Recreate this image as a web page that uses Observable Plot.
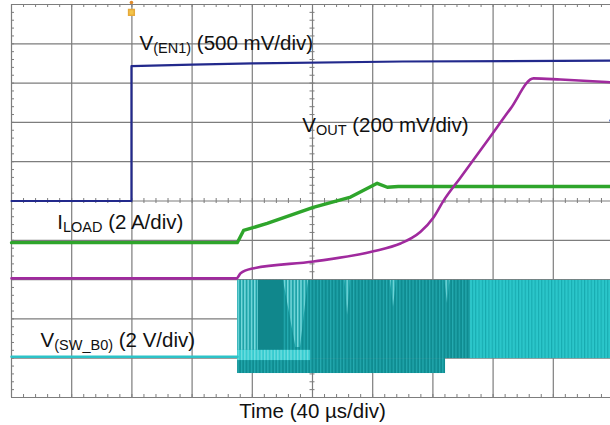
<!DOCTYPE html>
<html>
<head>
<meta charset="utf-8">
<script src="https://cdn.jsdelivr.net/npm/d3@7"></script>
<script src="https://cdn.jsdelivr.net/npm/@observablehq/plot@0.6"></script>
<style>
  html, body { margin: 0; padding: 0; background: #fff; overflow: hidden; }
  #chart svg { display: block; }
</style>
</head>
<body>
<div id="chart"></div>
<script>
// ---- Data (time in µs, amplitude in screen divisions) ----
const timeTicks = [0, 40, 80, 120, 160, 200, 240, 280, 320, 360, 400];
const divTicks = [0, 1, 2, 3, 4, 5, 6, 7, 8, 9, 10];
const xLabel = "Time (40 µs/div)";

// V(EN1)
const en1Time = [0, 79.7, 79.7, 120, 160, 260, 398];
const en1Div  = [5.0, 5.0, 8.43, 8.47, 8.5, 8.55, 8.57];

// VOUT
const voutTime = [0, 149.5, 152.2, 160.1, 200.7, 240.5, 258.5, 266, 271.8, 280.4, 287.1, 298.4, 316.3, 331.6, 346.9, 364.8, 398];
const voutDiv  = [3.03, 3.03, 3.16, 3.28, 3.46, 3.72, 3.92, 4.06, 4.22, 4.58, 5.01, 5.6, 6.54, 7.35, 8.12, 8.09, 8.02];

// ILOAD
const iloadTime = [0, 150, 154.2, 169.9, 200.5, 225.3, 243, 249.7, 257, 398];
const iloadDiv  = [3.94, 3.94, 4.25, 4.43, 4.84, 5.1, 5.45, 5.35, 5.37, 5.37];

// V(SW_B0): idle level before switching
const swIdleTime = [0, 150.2];
const swIdleDiv  = [1.04, 1.04];

// V(SW_B0): switching envelope regions
const swRegions = [
  {kind: "dark",  t1: 150.2, t2: 305.0, lo: 0.99, hi: 2.98},
  {kind: "dark",  t1: 150.2, t2: 288.4, lo: 0.61, hi: 0.99},
  {kind: "light", t1: 305.0, t2: 400,   lo: 0.99, hi: 2.98},
  {kind: "solid", t1: 164.1, t2: 180.7, lo: 1.2,  hi: 2.98},
  {kind: "notch", t1: 150.2, t2: 164.1, lo: 1.2,  hi: 2.98},
  {kind: "flat",  t1: 150.2, t2: 198.7, lo: 0.94, hi: 1.2}
];
// light notches dipping from the top of the envelope
const notchId     = ["a", "a", "a", "a", "b", "b", "b", "c", "c", "c", "d", "d", "d"];
const notchTime   = [180.7, 189.0, 192.0, 197.3, 221.6, 223.3, 225.3, 251.8, 253.8, 255.8, 288.0, 289.7, 291.4];
const notchBottom = [2.98, 1.27, 1.27, 2.98, 2.98, 2.09, 2.98, 2.98, 2.29, 2.98, 2.98, 2.39, 2.98];

// trace labels
const labelTime = [85.1, 193.2, 30.4, 19.3];
const labelDiv  = [8.83, 6.75, 4.30, 1.28];
const labelMain = ["V", "V", "I", "V"];
const labelSub  = ["(EN1)", "OUT", "LOAD", "(SW_B0)"];
const labelRest = [" (500 mV/div)", " (200 mV/div)", " (2 A/div)", " (2 V/div)"];

// ---- Build tables ----
const zip = (t, v) => t.map((x, i) => ({t: x, v: v[i]}));
const en1 = zip(en1Time, en1Div);
const vout = zip(voutTime, voutDiv);
const iload = zip(iloadTime, iloadDiv);
const swIdle = zip(swIdleTime, swIdleDiv);
const notches = notchTime.map((t, i) => ({id: notchId[i], t, lo: notchBottom[i], hi: 2.98}));
const labels = labelTime.map((t, i) => ({t, v: labelDiv[i], main: labelMain[i], sub: labelSub[i], rest: labelRest[i]}));

const minorTime = d3.range(0, 400.1, 8);
const minorDiv = d3.range(0, 10.01, 0.2);

const grid = "#7d7d7d";
const font = "'Liberation Sans', Arial, Helvetica, sans-serif";

const byKind = k => swRegions.filter(r => r.kind === k);
const rectOpts = fill => ({x1: "t1", x2: "t2", y1: "lo", y2: "hi", fill});

const svg = Plot.plot({
  width: 610,
  height: 425,
  marginLeft: 11,
  marginTop: 4,
  marginRight: 0,
  marginBottom: 28,
  x: {domain: [0, 400], range: [11, 613], axis: null},
  y: {domain: [0, 10], range: [397, 4], axis: null},
  style: {background: "#fff", fontFamily: font, color: "#000"},
  marks: [
    // graticule
    Plot.ruleX(timeTicks, {x: d => d, stroke: grid, strokeWidth: 1.2}),
    Plot.ruleY(divTicks, {y: d => d, stroke: grid, strokeWidth: 1.2}),
    // minor ticks
    Plot.ruleY(minorDiv, {y: d => d, x1: 0, x2: 0, insetRight: -3, stroke: grid}),
    Plot.ruleX(minorTime, {x: d => d, y1: 10, y2: 10, insetBottom: -3, stroke: grid}),
    Plot.ruleX(minorTime, {x: d => d, y1: 0, y2: 0, insetTop: -3, stroke: grid}),
    Plot.ruleX(minorTime, {x: d => d, y1: 5, y2: 5, insetTop: -2.5, insetBottom: -2.5, stroke: grid}),
    Plot.ruleY(minorDiv, {y: d => d, x1: 200, x2: 200, insetLeft: -2.5, insetRight: -2.5, stroke: grid}),

    // V(SW_B0) switching envelope
    Plot.rect(byKind("dark"), rectOpts("url(#swDark)")),
    Plot.rect(byKind("light"), rectOpts("url(#swLight)")),
    Plot.rect(byKind("solid"), rectOpts("#10878c")),
    Plot.rect(byKind("notch"), rectOpts("url(#swNotch)")),
    Plot.rect(byKind("flat"), rectOpts("url(#swFlat)")),
    Plot.areaY(notches, {x: "t", y1: "lo", y2: "hi", z: "id", fill: "url(#swNotch)"}),
    Plot.lineY(swIdle, {x: "t", y: "v", stroke: "#2cc3c8", strokeWidth: 2.5}),

    // V(EN1)
    Plot.lineY(en1, {x: "t", y: "v", stroke: "#22298c", strokeWidth: 2.2}),
    // ILOAD
    Plot.lineY(iload, {x: "t", y: "v", stroke: "#2ea52b", strokeWidth: 3.4}),
    // VOUT
    Plot.lineY(vout, {x: "t", y: "v", stroke: "#a02a9e", strokeWidth: 2.6, curve: "monotone-x"}),

    // trigger marker and channel marker
    Plot.dot([79.7], {x: d => d, y: 9.8, r: 3.2, symbol: "square", fill: "#f2c44a", stroke: "#e6a93a"}),
    Plot.dot([79.7], {x: d => d, y: 10.05, r: 1.8, fill: "#e08a2a"}),
    Plot.dot([398.5], {x: d => d, y: 7.05, r: 2.2, symbol: "diamond", fill: "#3050b8"}),

    // labels
    Plot.text(labels, {x: "t", y: "v", text: d => d.main + d.sub + d.rest, textAnchor: "start", lineAnchor: "bottom", fontSize: 20.5, fill: "#111"}),
    Plot.text([xLabel], {x: 200, frameAnchor: "bottom", dy: 20, text: d => d, lineAnchor: "bottom", fontSize: 20.5, fill: "#111"})
  ]
});

// stripe patterns for the switching waveform
const defs = document.createElementNS("http://www.w3.org/2000/svg", "defs");
const pat = (id, bg, fg, w) =>
  `<pattern id="${id}" width="3.3" height="10" patternUnits="userSpaceOnUse"><rect width="3.3" height="10" fill="${bg}"/><rect width="${w}" height="10" fill="${fg}"/></pattern>`;
defs.innerHTML =
  pat("swDark", "#0f8c91", "#24aab0", 1.2) +
  pat("swLight", "#2bc6ca", "#17abb0", 1.1) +
  pat("swNotch", "#1ea3a8", "#7adcdf", 1.4) +
  pat("swFlat", "#36cbcf", "#6edfe1", 1.3);
svg.insertBefore(defs, svg.firstChild);

// subscripts in labels
const ns = "http://www.w3.org/2000/svg";
svg.querySelectorAll("text").forEach(el => {
  const d = labels.find(l => l.main + l.sub + l.rest === el.textContent);
  if (!d) return;
  el.textContent = "";
  const a = document.createElementNS(ns, "tspan"); a.textContent = d.main;
  const b = document.createElementNS(ns, "tspan"); b.textContent = d.sub;
  b.setAttribute("font-size", "14.5"); b.setAttribute("dy", "3");
  const c = document.createElementNS(ns, "tspan"); c.textContent = d.rest;
  c.setAttribute("dy", "-3");
  el.append(a, b, c);
});

document.getElementById("chart").append(svg);
</script>
</body>
</html>
